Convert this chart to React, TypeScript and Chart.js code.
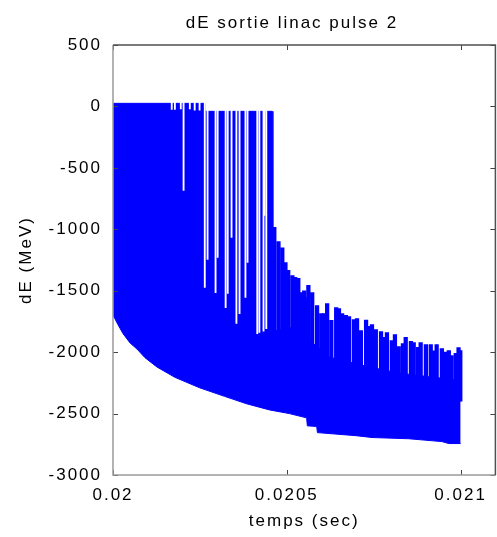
import React, { useEffect, useRef } from 'react';
import { Chart, registerables } from 'chart.js';

Chart.register(...registerables);

const titleText = 'dE sortie linac pulse 2';
const xTitle = 'temps (sec)';
const yTitle = 'dE (MeV)';

const xMin = 0.02;
const xMax = 0.0211;
const xTicks = [0.02, 0.0205, 0.021];
const xTickLabels = ['0.02', '0.0205', '0.021'];
const yMin = -3000;
const yMax = 500;
const yStep = 500;

// lower envelope of the oscillation
const lowerTimes = [
  0.02, 0.020006, 0.020014, 0.020029, 0.020049, 0.020069, 0.020092, 0.020126,
  0.020178, 0.020249, 0.020321, 0.020384, 0.02045, 0.020507, 0.020557, 0.020559,
  0.020586, 0.020588, 0.020699, 0.020745, 0.020851, 0.020946, 0.020966, 0.021,
];
const lowerValues = [
  -1700, -1730, -1775, -1850, -1925, -1975, -2045, -2120,
  -2205, -2290, -2360, -2420, -2470, -2500, -2535, -2600,
  -2605, -2655, -2680, -2695, -2705, -2728, -2744, -2744,
];

// upper edge of the dense body
const upperTimes = [
  0.02, 0.020262, 0.020264, 0.020458, 0.02046, 0.020507, 0.020536, 0.020564,
  0.020622, 0.020679, 0.020736, 0.020822, 0.020908, 0.021,
];
const upperValues = [
  25, 25, -40, -40, -1830, -1800, -1810, -1900,
  -2040, -2080, -2120, -2170, -2200, -2230,
];

// spikes above the body after the drop
const spikeTimes = [
  0.020464, 0.020476, 0.020487, 0.020496, 0.020504, 0.020516, 0.020524, 0.020533,
  0.020542, 0.02055, 0.020556, 0.020562, 0.020573, 0.020587, 0.020599, 0.020607,
  0.020616, 0.020628, 0.020642, 0.02065, 0.020659, 0.02067, 0.020679, 0.020693,
  0.020702, 0.020713, 0.020728, 0.020736, 0.020745, 0.020756, 0.020771, 0.020779,
  0.020788, 0.020802, 0.020811, 0.020822, 0.020834, 0.020842, 0.020857, 0.020865,
  0.020877, 0.020885, 0.0209, 0.020914, 0.020923, 0.020931, 0.020946, 0.020957,
  0.020966, 0.020974, 0.020986, 0.020994, 0.020999,
];
const spikeTops = [
  -985, -1100, -1150, -1270, -1335, -1376, -1392, -1400,
  -1515, -1500, -1555, -1457, -1515, -1620, -1686, -1686,
  -1604, -1742, -1637, -1645, -1686, -1700, -1710, -1734,
  -1726, -1824, -1740, -1790, -1775, -1816, -1832, -1880,
  -1840, -1906, -1857, -1954, -1930, -1880, -1913, -1922,
  -1960, -1922, -1938, -1938, -1990, -1938, -1970, -2000,
  -1987, -2028, -2010, -1962, -1987,
];
const spikeBase = -2400;

// white gaps (cycles whose peak stays low) before the drop
const gapTimes = [
  0.020169, 0.020178, 0.020195, 0.020203, 0.020221, 0.020235, 0.020249, 0.020264,
  0.020272, 0.020295, 0.020301, 0.020324, 0.02033, 0.020341, 0.020355, 0.020364,
  0.020381, 0.020387, 0.020415, 0.020421, 0.020433, 0.020436, 0.020441,
];
const gapBottoms = [
  -25, -25, -20, -684, -20, -30, -30, -1474,
  -1246, -1515, -1230, -1637, -1523, -1067, -1767, -1686,
  -1555, -1270, -1849, -1840, -1830, -888, -1808,
];
const gapTop = 60;

const BLUE = '#0000ff';
const FONT = { family: '"Liberation Sans", Arial, Helvetica, sans-serif', size: 17 };

const spacingPlugin = {
  id: 'spacing',
  beforeUpdate(chart: any) {
    chart.ctx.letterSpacing = '2px';
  },
  beforeDraw(chart: any) {
    chart.ctx.letterSpacing = '2px';
  },
};

const framePlugin = {
  id: 'frame',
  afterDatasetsDraw(chart: any) {
    const { ctx, chartArea: a, scales } = chart;
    const L = 5;
    ctx.save();
    ctx.lineWidth = 1;
    ctx.strokeStyle = '#444';
    ctx.beginPath();
    for (const t of scales.x.ticks) {
      const px = Math.round(scales.x.getPixelForValue(t.value)) + 0.5;
      ctx.moveTo(px, a.bottom);
      ctx.lineTo(px, a.bottom - L);
      ctx.moveTo(px, a.top);
      ctx.lineTo(px, a.top + L);
    }
    for (const t of scales.y.ticks) {
      const py = Math.round(scales.y.getPixelForValue(t.value)) + 0.5;
      ctx.moveTo(a.left, py);
      ctx.lineTo(a.left + L, py);
      ctx.moveTo(a.right, py);
      ctx.lineTo(a.right - L, py);
    }
    ctx.stroke();
    ctx.lineWidth = 1.5;
    ctx.strokeStyle = '#9a9a9a';
    ctx.beginPath();
    ctx.moveTo(a.left, a.top);
    ctx.lineTo(a.left, a.bottom);
    ctx.lineTo(a.right, a.bottom);
    ctx.stroke();
    ctx.strokeStyle = '#505050';
    ctx.beginPath();
    ctx.moveTo(a.left, a.top);
    ctx.lineTo(a.right, a.top);
    ctx.lineTo(a.right, a.bottom);
    ctx.stroke();
    ctx.restore();
  },
};

const titlePlugin = {
  id: 'plotTitle',
  afterDraw(chart: any) {
    const { ctx } = chart;
    ctx.save();
    ctx.letterSpacing = '2px';
    ctx.font = `17px ${FONT.family}`;
    ctx.fillStyle = '#000';
    ctx.textAlign = 'center';
    ctx.textBaseline = 'alphabetic';
    ctx.fillText(titleText, 292, 28);
    ctx.restore();
  },
};

export default function App() {
  const ref = useRef<HTMLCanvasElement>(null);
  useEffect(() => {
    const canvas = ref.current;
    if (!canvas) return;
    const chart = new Chart(canvas, {
      type: 'bar',
      data: {
        datasets: [
          {
            type: 'bar',
            label: 'gaps',
            data: gapTimes.map((t, i) => ({ x: t, y: [gapBottoms[i], gapTop] })),
            backgroundColor: '#ffffff',
            borderWidth: 0,
            barThickness: 1.2,
            grouped: false,
          } as any,
          {
            type: 'bar',
            label: 'spikes',
            data: spikeTimes.map((t, i) => ({ x: t, y: [spikeBase, spikeTops[i]] })),
            backgroundColor: BLUE,
            borderWidth: 0,
            barThickness: 3.6,
            grouped: false,
          } as any,
          {
            type: 'line',
            label: 'upper',
            data: upperTimes.map((t, i) => ({ x: t, y: upperValues[i] })),
            borderColor: BLUE,
            backgroundColor: BLUE,
            borderWidth: 1,
            pointRadius: 0,
            tension: 0,
            fill: '+1',
          } as any,
          {
            type: 'line',
            label: 'lower',
            data: lowerTimes.map((t, i) => ({ x: t, y: lowerValues[i] })),
            borderColor: BLUE,
            backgroundColor: BLUE,
            borderWidth: 1,
            pointRadius: 0,
            tension: 0,
            fill: false,
          } as any,
        ],
      },
      options: {
        animation: false,
        responsive: true,
        maintainAspectRatio: false,
        layout: { padding: { top: 45, right: 1, bottom: 0, left: 0 } },
        plugins: {
          legend: { display: false },
          tooltip: { enabled: false },
          title: { display: false },
        },
        scales: {
          x: {
            type: 'linear',
            offset: false,
            min: xMin,
            max: xMax,
            grid: { display: false, drawTicks: false },
            border: { display: false },
            afterBuildTicks(scale: any) {
              scale.ticks = xTicks.map((v) => ({ value: v }));
            },
            afterFit(scale: any) {
              scale.height = 62;
            },
            ticks: {
              padding: 10,
              color: '#000',
              font: FONT,
              maxRotation: 0,
              autoSkip: false,
              callback: (v: any) => {
                const i = xTicks.findIndex((t) => Math.abs(t - v) < 1e-9);
                return i >= 0 ? xTickLabels[i] : '';
              },
            },
            title: {
              display: true,
              text: xTitle,
              color: '#000',
              font: FONT,
              padding: { top: 0, bottom: 5 },
            },
          },
          y: {
            type: 'linear',
            min: yMin,
            max: yMax,
            grid: { display: false, drawTicks: false },
            border: { display: false },
            afterFit(scale: any) {
              scale.width = 113;
            },
            ticks: {
              stepSize: yStep,
              padding: 11,
              color: '#000',
              font: FONT,
              callback: (v: any) => String(v),
            },
            title: {
              display: true,
              text: yTitle,
              color: '#000',
              font: FONT,
              padding: { top: 16, bottom: 0 },
            },
          },
        },
      },
      plugins: [spacingPlugin, framePlugin, titlePlugin],
    } as any);
    return () => chart.destroy();
  }, []);
  return (
    <div style={{ position: 'absolute', left: 0, top: 0, width: 497, height: 537 }}>
      <canvas ref={ref} />
    </div>
  );
}
